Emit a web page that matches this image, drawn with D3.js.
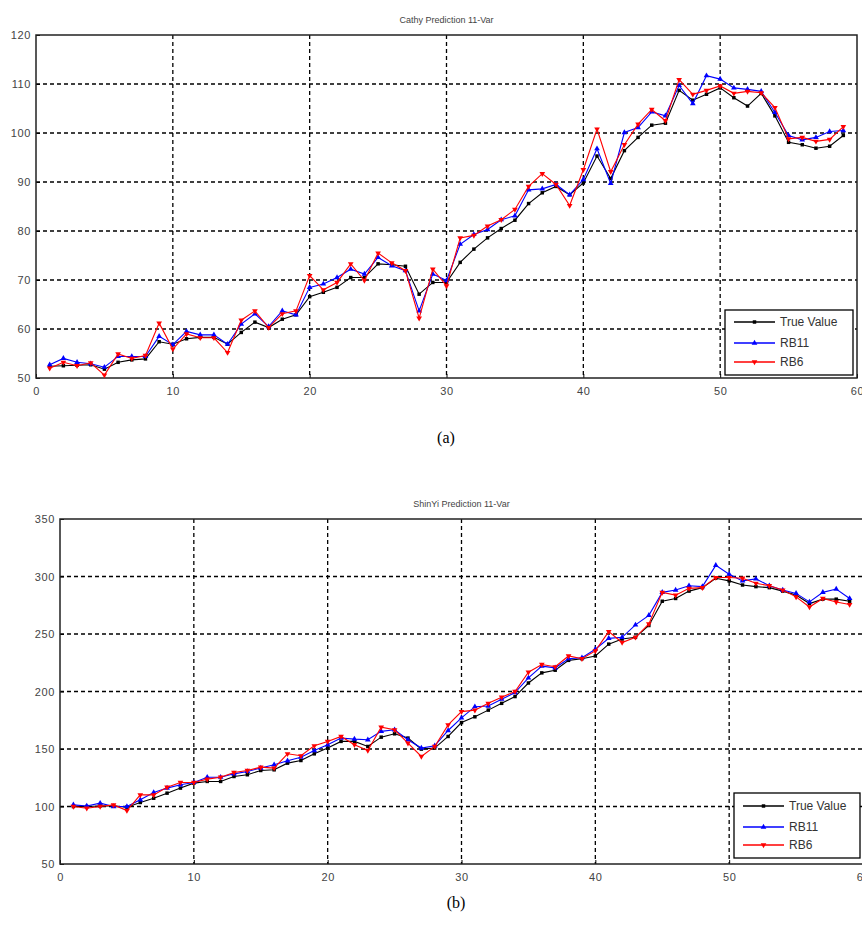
<!DOCTYPE html>
<html>
<head>
<meta charset="utf-8">
<script src="https://cdn.jsdelivr.net/npm/d3@7"></script>
<style>
  body { margin: 0; background: #fff; }
  svg { display: block; }
  text { font-family: "Liberation Sans", Arial, sans-serif; }
</style>
</head>
<body>
<svg id="fig" width="862" height="932"></svg>
<script>
// Cathy (a)
const cathyTrue = [52.4, 52.5, 52.6, 52.7, 51.8, 53.2, 53.7, 53.9, 57.4, 56.9,
  58.0, 58.3, 58.3, 56.9, 59.3, 61.4, 60.3, 62.0, 62.9, 66.6,
  67.5, 68.5, 70.5, 70.5, 73.3, 73.1, 72.8, 67.1, 69.5, 69.5,
  73.6, 76.3, 78.6, 80.5, 82.2, 85.6, 87.8, 89.1, 87.4, 89.8,
  95.3, 90.7, 96.4, 99.1, 101.6, 102.0, 108.7, 106.7, 107.9, 109.2,
  107.2, 105.5, 108.1, 103.5, 98.1, 97.6, 96.9, 97.3, 99.5];
const cathyRB11 = [52.7, 54.0, 53.2, 52.9, 52.2, 54.4, 54.4, 54.4, 58.5, 56.8,
  59.5, 58.8, 58.8, 56.9, 61.0, 63.1, 60.5, 63.7, 62.9, 68.5,
  69.2, 70.5, 72.2, 71.2, 74.6, 72.9, 71.9, 63.7, 71.2, 69.9,
  77.3, 79.3, 80.3, 82.3, 83.1, 88.4, 88.6, 89.5, 87.4, 90.5,
  96.8, 89.7, 100.1, 101.1, 104.3, 103.5, 109.7, 106.0, 111.7, 111.0,
  109.2, 108.9, 108.5, 104.2, 99.5, 98.6, 99.1, 100.3, 100.5];
const cathyRB6 = [52.0, 53.2, 52.5, 53.1, 50.6, 54.9, 54.0, 54.6, 61.2, 55.9,
  59.0, 58.2, 58.2, 55.2, 61.8, 63.7, 60.3, 63.1, 63.7, 70.9,
  68.0, 69.5, 73.3, 69.9, 75.5, 73.5, 71.9, 62.2, 72.2, 68.8,
  78.6, 79.1, 81.0, 82.3, 84.4, 89.1, 91.7, 89.5, 85.2, 92.5,
  100.8, 92.1, 97.6, 101.8, 104.8, 102.5, 110.9, 107.9, 108.7, 109.6,
  108.1, 108.5, 108.2, 105.2, 98.8, 99.1, 98.3, 98.7, 101.3];

// ShinYi (b)
const shinyiTrue = [100.0, 100.0, 100.5, 100.5, 99.4, 103.5, 107.2, 111.6, 116.0, 120.3,
  121.8, 121.8, 126.1, 127.6, 131.3, 131.9, 137.7, 140.0, 145.8, 150.8,
  156.6, 156.6, 152.2, 160.3, 163.2, 159.5, 149.9, 150.8, 160.9, 173.0,
  178.0, 183.8, 189.7, 195.6, 207.4, 216.2, 218.5, 227.1, 228.5, 230.9,
  241.2, 245.6, 247.1, 257.4, 278.5, 280.9, 287.3, 290.3, 298.5, 296.2,
  292.6, 291.2, 290.3, 287.3, 283.8, 276.5, 280.3, 280.3, 278.5];
const shinyiRB11 = [101.4, 100.5, 102.9, 100.0, 100.0, 105.8, 112.2, 116.0, 118.9, 120.9,
  125.5, 125.5, 128.4, 130.5, 133.4, 136.3, 139.7, 142.9, 148.7, 153.7,
  159.5, 158.6, 158.0, 165.3, 166.7, 158.0, 150.8, 152.8, 166.1, 177.0,
  186.8, 187.4, 193.3, 199.1, 211.8, 222.1, 220.6, 228.5, 229.4, 236.8,
  246.2, 247.1, 257.9, 266.2, 286.2, 288.2, 292.0, 291.2, 309.7, 302.0,
  296.2, 297.9, 292.0, 288.2, 285.3, 277.9, 286.2, 289.1, 280.9];
const shinyiRB6 = [100.0, 98.5, 100.0, 101.4, 96.5, 110.1, 110.1, 116.8, 120.9, 120.9,
  123.8, 125.5, 129.6, 131.3, 134.2, 133.4, 145.8, 144.1, 152.8, 156.6,
  160.9, 153.7, 148.7, 169.0, 166.7, 155.1, 143.5, 152.2, 171.0, 182.5,
  183.8, 189.7, 195.0, 200.0, 216.8, 223.5, 221.5, 230.9, 228.5, 235.3,
  252.1, 242.6, 247.1, 258.8, 286.2, 283.8, 289.7, 290.3, 299.1, 299.1,
  298.5, 294.1, 292.0, 288.2, 282.3, 273.5, 280.9, 277.9, 275.6];

const xTicks = [0, 10, 20, 30, 40, 50, 60];
const cathyYTicks = [50, 60, 70, 80, 90, 100, 110, 120];
const shinyiYTicks = [50, 100, 150, 200, 250, 300, 350];
const seriesNames = ['True Value', 'RB11', 'RB6'];
const seriesColors = ['#000000', '#0000ff', '#ff0000'];
const markerTypes = [d3.symbolSquare, d3.symbolTriangle, 'down'];

const svg = d3.select('#fig');

function symbolPath(k) {
    const t = markerTypes[k] === 'down' ? d3.symbolTriangle : markerTypes[k];
    return d3.symbol().type(t).size(k === 0 ? 12 : 14)();
}

function drawPanel(cfg) {
    const { left, right, top, bottom } = cfg;
    const x = d3.scaleLinear().domain([0, 60]).range([left, right]);
    const y = d3.scaleLinear().domain(cfg.yDomain).range([bottom, top]);
    const g = svg.append('g');

    // dashed grid
    g.selectAll('.vgrid')
        .data(xTicks.slice(1, -1))
        .enter().append('line')
            .attr('x1', d => x(d)).attr('x2', d => x(d))
            .attr('y1', top).attr('y2', bottom)
            .attr('stroke', '#000').attr('stroke-width', 1.3)
            .attr('stroke-dasharray', '4,3');
    g.selectAll('.hgrid')
        .data(cfg.yTicks.slice(1, -1))
        .enter().append('line')
            .attr('x1', left).attr('x2', right)
            .attr('y1', d => y(d)).attr('y2', d => y(d))
            .attr('stroke', '#000').attr('stroke-width', 1.3)
            .attr('stroke-dasharray', '4,3');

    // axes, ticks pointing inward
    const xAxis = g.append('g')
        .attr('transform', `translate(0,${bottom})`)
        .call(d3.axisBottom(x).tickValues(xTicks).tickSizeInner(-4).tickSizeOuter(0).tickPadding(9));
    const yAxis = g.append('g')
        .attr('transform', `translate(${left},0)`)
        .call(d3.axisLeft(y).tickValues(cfg.yTicks).tickSizeInner(-4).tickSizeOuter(0).tickPadding(5));
    [xAxis, yAxis].forEach(a => {
        a.select('.domain').remove();
        a.selectAll('line').attr('stroke', '#000');
        a.selectAll('text')
            .style('font-size', '11px')
            .style('letter-spacing', '0.6px')
            .attr('fill', '#444');
    });

    // box
    g.append('rect')
        .attr('x', left).attr('y', top)
        .attr('width', right - left).attr('height', bottom - top)
        .attr('fill', 'none').attr('stroke', '#222').attr('stroke-width', 1.5);

    // title
    g.append('text')
        .attr('x', (left + right) / 2).attr('y', top - 12)
        .attr('text-anchor', 'middle')
        .style('font-size', '9px')
        .attr('fill', '#444')
        .text(cfg.title);

    // series
    const line = d3.line()
        .x((d, i) => x(i + 1))
        .y(d => y(d));

    cfg.series.forEach((vals, k) => {
        g.append('path')
            .datum(vals)
            .attr('d', line)
            .attr('fill', 'none')
            .attr('stroke', seriesColors[k])
            .attr('stroke-width', 1.1);
        g.selectAll('.m' + k)
            .data(vals)
            .enter().append('path')
                .attr('d', symbolPath(k))
                .attr('transform', (d, i) => `translate(${x(i + 1)},${y(d)})${k === 2 ? ' rotate(180)' : ''}`)
                .attr('fill', seriesColors[k]);
    });

    // legend
    const lg = g.append('g').attr('transform', `translate(${cfg.legend.x},${cfg.legend.y})`);
    lg.append('rect')
        .attr('width', cfg.legend.w).attr('height', cfg.legend.h)
        .attr('fill', '#fff').attr('stroke', '#000').attr('stroke-width', 1.3);
    seriesNames.forEach((name, k) => {
        const yy = cfg.legend.rows[k];
        lg.append('line')
            .attr('x1', 9).attr('x2', 50)
            .attr('y1', yy).attr('y2', yy)
            .attr('stroke', seriesColors[k]).attr('stroke-width', 1.3);
        lg.append('path')
            .attr('d', symbolPath(k))
            .attr('transform', `translate(29.5,${yy})${k === 2 ? ' rotate(180)' : ''}`)
            .attr('fill', seriesColors[k]);
        lg.append('text')
            .attr('x', 55).attr('y', yy)
            .attr('dy', '0.35em')
            .style('font-size', '12px')
            .attr('fill', '#333')
            .text(name);
    });

    // caption
    svg.append('text')
        .attr('x', cfg.caption.x).attr('y', cfg.caption.y)
        .attr('text-anchor', 'middle')
        .style('font-family', '"Liberation Serif", "Times New Roman", serif')
        .style('font-size', '16px')
        .attr('fill', '#000')
        .text(cfg.caption.text);
}

drawPanel({
    left: 36, right: 857, top: 35, bottom: 378,
    yDomain: [50, 120], yTicks: cathyYTicks,
    title: 'Cathy Prediction 11-Var',
    series: [cathyTrue, cathyRB11, cathyRB6],
    legend: { x: 725, y: 310, w: 128, h: 65, rows: [12, 33, 52] },
    caption: { x: 446, y: 443, text: '(a)' }
});

drawPanel({
    left: 60, right: 863, top: 519, bottom: 864,
    yDomain: [50, 350], yTicks: shinyiYTicks,
    title: 'ShinYi Prediction 11-Var',
    series: [shinyiTrue, shinyiRB11, shinyiRB6],
    legend: { x: 734, y: 793, w: 126, h: 65, rows: [13, 34, 52] },
    caption: { x: 456, y: 908, text: '(b)' }
});
</script>
</body>
</html>
